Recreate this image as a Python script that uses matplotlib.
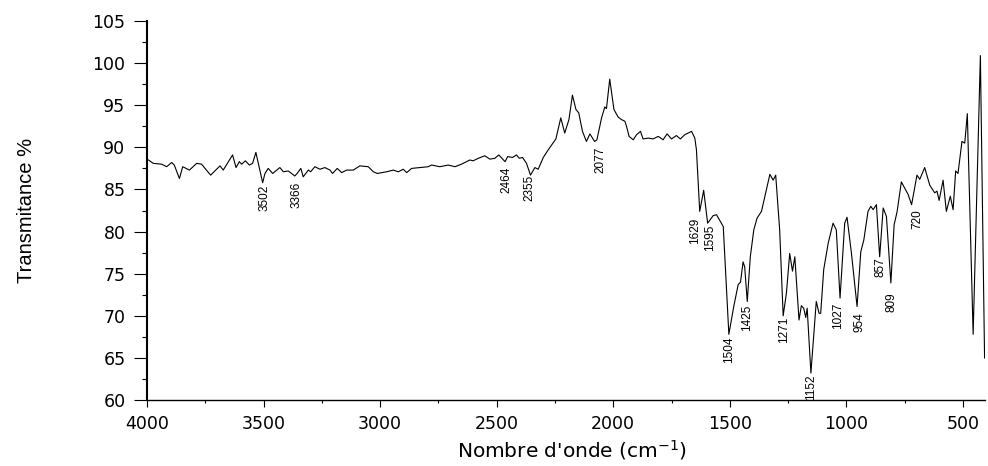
import matplotlib
matplotlib.use('Agg')
import matplotlib.pyplot as plt
from matplotlib.ticker import MultipleLocator

# FTIR spectrum
wavenumber = [3994, 3973, 3937, 3916, 3894, 3883, 3861, 3847, 3818, 3787,
              3766, 3727, 3687, 3673, 3651, 3633, 3618, 3604, 3594, 3578,
              3561, 3547, 3533, 3504, 3494, 3480, 3461, 3430, 3415, 3394,
              3366, 3356, 3340, 3330, 3308, 3298, 3280, 3258, 3237, 3215,
              3204, 3184, 3165, 3144, 3115, 3087, 3051, 3029, 3012, 2972,
              2944, 2922, 2901, 2886, 2865, 2829, 2794, 2779, 2744, 2708,
              2679, 2651, 2629, 2615, 2601, 2579, 2551, 2529, 2508, 2491,
              2464, 2453, 2432, 2415, 2403, 2389, 2372, 2355, 2336, 2322,
              2300, 2279, 2246, 2225, 2208, 2190, 2175, 2160, 2148, 2132,
              2115, 2100, 2080, 2070, 2050, 2036, 2029, 2015, 1997, 1979,
              1965, 1950, 1943, 1932, 1914, 1900, 1883, 1872, 1850, 1829,
              1807, 1786, 1769, 1750, 1729, 1712, 1693, 1664, 1650, 1643,
              1629, 1612, 1595, 1571, 1557, 1528, 1504, 1483, 1464, 1454,
              1443, 1436, 1425, 1412, 1397, 1383, 1364, 1346, 1328, 1314,
              1303, 1286, 1271, 1257, 1243, 1231, 1221, 1203, 1193, 1183,
              1174, 1168, 1152, 1129, 1117, 1110, 1097, 1078, 1057, 1043,
              1027, 1007, 997, 978, 954, 938, 925, 907, 895, 885,
              871, 857, 842, 828, 809, 795, 782, 764, 735, 720,
              697, 685, 664, 642, 621, 611, 602, 585, 571, 554,
              542, 531, 521, 504, 492, 481, 456, 425, 407]
transmittance = [88.5, 88.1, 88.0, 87.7, 88.2, 87.9, 86.3, 87.7, 87.3, 88.1,
                 88.0, 86.7, 87.8, 87.3, 88.3, 89.1, 87.6, 88.3, 88.0, 88.4,
                 87.9, 88.1, 89.4, 85.8, 86.9, 87.5, 86.9, 87.6, 87.1, 87.2,
                 86.6, 86.9, 87.5, 86.5, 87.3, 87.1, 87.7, 87.4, 87.6, 87.3,
                 86.9, 87.5, 87.0, 87.3, 87.3, 87.8, 87.7, 87.1, 86.9, 87.1,
                 87.3, 87.1, 87.4, 87.0, 87.5, 87.6, 87.7, 87.9, 87.7, 87.9,
                 87.7, 88.0, 88.3, 88.5, 88.4, 88.7, 89.0, 88.6, 88.7, 89.1,
                 88.3, 88.9, 88.8, 89.1, 88.7, 88.8, 88.1, 86.7, 87.6, 87.4,
                 88.8, 89.7, 91.0, 93.5, 91.7, 93.3, 96.2, 94.5, 94.1, 91.9,
                 90.7, 91.6, 90.7, 90.9, 93.5, 94.8, 94.6, 98.1, 94.5, 93.6,
                 93.3, 93.1, 92.5, 91.3, 90.9, 91.5, 91.9, 91.0, 91.1, 91.0,
                 91.3, 90.9, 91.6, 91.0, 91.4, 91.0, 91.5, 91.9, 91.1, 89.7,
                 82.4, 84.9, 81.0, 81.9, 82.0, 80.6, 67.8, 71.1, 73.7, 74.0,
                 76.4, 75.8, 71.7, 77.0, 80.2, 81.6, 82.4, 84.6, 86.8, 86.1,
                 86.7, 80.2, 70.0, 72.7, 77.4, 75.3, 77.0, 69.5, 71.2, 70.9,
                 69.8, 70.9, 63.2, 71.7, 70.3, 70.3, 75.5, 78.6, 81.0, 80.2,
                 72.1, 81.0, 81.7, 77.4, 71.1, 77.6, 79.0, 82.4, 83.0, 82.6,
                 83.2, 77.0, 82.8, 81.8, 73.9, 80.8, 82.4, 85.9, 84.4, 83.2,
                 86.7, 86.2, 87.6, 85.5, 84.6, 84.8, 83.7, 86.1, 82.4, 84.2,
                 82.6, 87.2, 86.9, 90.7, 90.5, 94.0, 67.8, 100.9, 65.0]

# peak labels and where their text starts (wavenumber, transmittance of text top)
peak_labels = ['3502', '3366', '2464', '2355', '2077', '1629', '1595', '1504',
               '1425', '1271', '1152', '1027', '954', '857', '809', '720']
label_x = [3494, 3358, 2458, 2358, 2057, 1650, 1586, 1504,
           1427, 1268, 1150, 1037, 942, 854, 807, 694]
label_y = [85.5, 85.9, 87.7, 86.7, 90.1, 81.7, 80.8, 67.5,
           71.3, 69.9, 63.0, 71.6, 70.4, 77.0, 72.8, 82.6]

fig = plt.figure(figsize=(9.88, 4.66), dpi=100)
ax = fig.add_axes([0.1488, 0.1416, 0.8482, 0.8133])

ax.plot(wavenumber, transmittance, color='black', lw=0.8)

for txt, x, y in zip(peak_labels, label_x, label_y):
    ax.text(x, y, txt, rotation=90, ha='center', va='top',
            fontsize=8.5, family='Liberation Sans')

ax.set_xlim(4000, 405)
ax.set_ylim(60, 105)
ax.xaxis.set_major_locator(MultipleLocator(500))
ax.xaxis.set_minor_locator(MultipleLocator(250))
ax.yaxis.set_major_locator(MultipleLocator(5))
ax.yaxis.set_minor_locator(MultipleLocator(2.5))

for side in ['top', 'right']:
    ax.spines[side].set_visible(False)
ax.spines['left'].set_linewidth(1.5)
ax.spines['bottom'].set_linewidth(1.0)

ax.tick_params(axis='y', which='major', direction='out', length=9.5, width=0.8,
               pad=6, labelsize=12.5)
ax.tick_params(axis='y', which='minor', direction='out', length=3.6, width=0.8)
ax.tick_params(axis='x', which='major', direction='out', length=5, width=0.8,
               pad=6, labelsize=12.5)
ax.tick_params(axis='x', which='minor', direction='out', length=2.5, width=0.8)

ax.set_xlabel("Nombre d'onde (cm$^{-1}$)", fontsize=14.5)
ax.xaxis.set_label_coords(0.507, -0.10)
ax.set_ylabel('Transmitance %', fontsize=14.5, family='Liberation Sans')
ax.yaxis.set_label_coords(-0.133, 0.5)

fig.savefig('out.png', dpi=100)
